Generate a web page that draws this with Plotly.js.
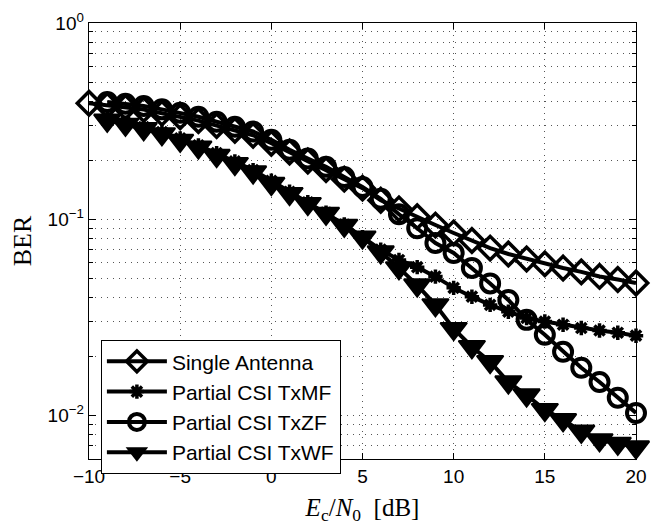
<!DOCTYPE html>
<html>
<head>
<meta charset="utf-8">
<script src="https://cdn.plot.ly/plotly-3.0.1.min.js"></script>
<style>html,body{margin:0;padding:0;background:#fff;}#chart{width:661px;height:527px;}</style>
</head>
<body>
<div id="chart"></div>
<script>
// Ec/N0 grid (dB)
const snrSingle = [-10,-9,-8,-7,-6,-5,-4,-3,-2,-1,0,1,2,3,4,5,6,7,8,9,10,11,12,13,14,15,16,17,18,19,20];
const snrPartial = [-9,-8,-7,-6,-5,-4,-3,-2,-1,0,1,2,3,4,5,6,7,8,9,10,11,12,13,14,15,16,17,18,19,20];

const berSingle = [0.390,0.381,0.372,0.362,0.347,0.333,0.318,0.300,0.284,0.268,0.244,0.220,0.198,0.179,0.160,0.144,0.125,0.113,0.103,0.0934,0.0851,0.0779,0.0713,0.0665,0.0627,0.0592,0.0564,0.0539,0.0511,0.0493,0.0473];
const berTxMF = [0.325,0.310,0.295,0.278,0.258,0.238,0.217,0.197,0.178,0.157,0.138,0.122,0.108,0.094,0.081,0.070,0.062,0.057,0.051,0.0447,0.0403,0.0366,0.0338,0.0314,0.0301,0.0290,0.0279,0.0271,0.0264,0.0255];
const berTxZF = [0.396,0.388,0.378,0.363,0.349,0.333,0.314,0.296,0.280,0.254,0.226,0.204,0.185,0.164,0.146,0.127,0.106,0.090,0.0757,0.0673,0.0565,0.0471,0.0388,0.0307,0.0258,0.0211,0.0175,0.0148,0.0123,0.0103];
const berTxWF = [0.319,0.304,0.289,0.272,0.252,0.233,0.211,0.192,0.174,0.152,0.135,0.120,0.107,0.093,0.081,0.068,0.0565,0.0462,0.0366,0.0277,0.0224,0.0188,0.0148,0.0127,0.0107,0.0095,0.0083,0.0075,0.0072,0.0069];

const seriesNames = ["Single Antenna","Partial CSI TxMF","Partial CSI TxZF","Partial CSI TxWF"];
const xTickVals = [-10,-5,0,5,10,15,20];
const yTickVals = [0.01,0.1,1];
const yTickText = ["10<sup>\u22122</sup>","10<sup>\u22121</sup>","10<sup>0</sup>"];
const yMinorVals = [0.006,0.007,0.008,0.009,0.02,0.03,0.04,0.05,0.06,0.07,0.08,0.09,0.2,0.3,0.4,0.5,0.6,0.7,0.8,0.9];

const lineStyle = {color:'#000', width:4};
function tr(x, y, name, symbol, size, lw){
  return {x:x, y:y, name:name, type:'scatter', mode:'lines+markers', cliponaxis:false,
    line:lineStyle,
    marker:{symbol:symbol, size:size, color:'#000', line:{color:'#000', width:lw}}};
}
const data = [
  tr(snrSingle, berSingle, seriesNames[0], 'diamond-open', 18, 3.5),
  tr(snrPartial, berTxMF, seriesNames[1], 'asterisk-open', 12, 3.5),
  tr(snrPartial, berTxZF, seriesNames[2], 'circle-open', 18, 4),
  tr(snrPartial, berTxWF, seriesNames[3], 'triangle-down', 23, 2)
];

const gridCol = '#555';
const gDash = '1px,5px';
const layout = {
  width:661, height:527,
  margin:{l:89, r:25, t:23, b:68},
  paper_bgcolor:'#fff', plot_bgcolor:'#fff',
  font:{family:'"Liberation Sans", Arial, sans-serif', size:19, color:'#000'},
  showlegend:true,
  legend:{x:0.0214, y:0.273, xanchor:'left', yanchor:'top', bgcolor:'#fff', bordercolor:'#000', borderwidth:1.2,
    font:{family:'"Liberation Sans", Arial, sans-serif', size:21, color:'#000'}, tracegroupgap:0, itemwidth:60},
  xaxis:{range:[-10,20], tickmode:'array', tickvals:xTickVals, ticks:'inside', ticklen:6, tickcolor:'#000',
    showline:true, linecolor:'#000', linewidth:1.3, mirror:'ticks', zeroline:false,
    showgrid:true, gridcolor:gridCol, griddash:gDash, gridwidth:1,
    title:{text:'<i>E</i><sub>c</sub>/<i>N</i><sub>0</sub>  [dB]', font:{family:'"Liberation Serif", "Times New Roman", serif', size:25, color:'#000'}, standoff:12}},
  yaxis:{type:'log', range:[Math.log10(0.006), 0], tickmode:'array', tickvals:yTickVals, ticktext:yTickText,
    ticks:'inside', ticklen:7, tickcolor:'#000',
    showline:true, linecolor:'#000', linewidth:1.3, mirror:'ticks', zeroline:false,
    showgrid:true, gridcolor:gridCol, griddash:gDash, gridwidth:1,
    minor:{tickmode:'array', tickvals:yMinorVals, ticks:'inside', ticklen:4, tickcolor:'#000', showgrid:true, gridcolor:gridCol, griddash:gDash, gridwidth:1},
    title:{text:'BER', font:{family:'"Liberation Serif", "Times New Roman", serif', size:26, color:'#000'}, standoff:8}}
};
Plotly.newPlot('chart', data, layout, {staticPlot:true, displayModeBar:false});
</script>
</body>
</html>
